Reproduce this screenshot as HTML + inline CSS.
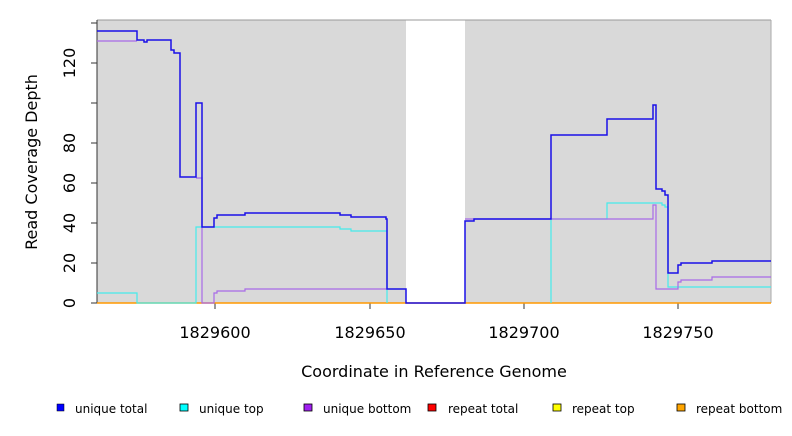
<!DOCTYPE html>
<html><head><meta charset="utf-8"><style>
body{margin:0;background:#fff;width:792px;height:432px;overflow:hidden;font-family:"DejaVu Sans","Liberation Sans",sans-serif}
</style></head><body>
<svg width="792" height="432" xmlns="http://www.w3.org/2000/svg" font-family="DejaVu Sans, Liberation Sans, sans-serif">
<rect x="97" y="20" width="309" height="283" fill="#d9d9d9"/>
<rect x="465" y="20" width="306" height="283" fill="#d9d9d9"/>
<line x1="97" y1="20" x2="771" y2="20" stroke="#999" stroke-width="1"/>
<line x1="771" y1="20" x2="771" y2="303" stroke="#aaa" stroke-width="1"/>
<line x1="97" y1="20" x2="97" y2="303" stroke="#333" stroke-width="1"/>
<g stroke="#333" stroke-width="1">
<line x1="91" y1="303" x2="97" y2="303"/><line x1="91" y1="263" x2="97" y2="263"/><line x1="91" y1="223" x2="97" y2="223"/><line x1="91" y1="183" x2="97" y2="183"/><line x1="91" y1="143" x2="97" y2="143"/><line x1="91" y1="103" x2="97" y2="103"/><line x1="91" y1="63" x2="97" y2="63"/><line x1="91" y1="23" x2="97" y2="23"/>
<line x1="215" y1="303" x2="215" y2="309"/><line x1="370" y1="303" x2="370" y2="309"/><line x1="524" y1="303" x2="524" y2="309"/><line x1="678" y1="303" x2="678" y2="309"/>
</g>
<g font-size="16" fill="#000" text-anchor="middle">
<text transform="translate(75,303) rotate(-90)">0</text>
<text transform="translate(75,263) rotate(-90)">20</text>
<text transform="translate(75,223) rotate(-90)">40</text>
<text transform="translate(75,183) rotate(-90)">60</text>
<text transform="translate(75,143) rotate(-90)">80</text>
<text transform="translate(75,63) rotate(-90)">120</text>
<text transform="translate(37,162) rotate(-90)">Read Coverage Depth</text>
<text x="215" y="338">1829600</text><text x="370" y="338">1829650</text><text x="524" y="338">1829700</text><text x="678" y="338">1829750</text>
<text x="434" y="377">Coordinate in Reference Genome</text>
</g>
<line x1="551" y1="219" x2="551" y2="303" stroke="#bbb"/>
<polyline fill="none" stroke="#ff9900" stroke-width="1.5" points="97,303 406,303 465,303 771,303"/>
<polyline fill="none" stroke="#44ecec" stroke-width="1.2" points="97,293 137,293 137,303 196,303 196,227 340,227 340,229 351,229 351,231 387,231 387,303"/>
<polyline fill="none" stroke="#44ecec" stroke-width="1.2" points="551,303 551,219 607,219 607,203 662,203 662,205 665,205 665,207 668,207 668,287 771,287"/>
<polyline fill="none" stroke="#a86ae8" stroke-width="1.2" points="97,41 137,41"/>
<polyline fill="none" stroke="#a86ae8" stroke-width="1.2" points="196,178 202,178 202,303 214,303 214,293 217,293 217,291 245,291 245,289 387,289"/>
<polyline fill="none" stroke="#a86ae8" stroke-width="1.2" points="465,219 653,219 653,205 656,205 656,289 678,289 678,282 681,282 681,280 712,280 712,277 771,277"/>
<polyline fill="none" stroke="#1a10e8" stroke-width="1.5" points="97,31 137,31 137,40 144,40 144,42 147,42 147,40 171,40 171,50 174,50 174,53 180,53 180,177 196,177 196,103 202,103 202,227 214,227 214,218 217,218 217,215 245,215 245,213 340,213 340,215 351,215 351,217 386,217 386,219 387,219 387,289 406,289 406,303 465,303 465,221 474,221 474,219 551,219 551,135 607,135 607,119 653,119 653,105 656,105 656,189 662,189 662,191 665,191 665,195 668,195 668,273 678,273 678,265 681,265 681,263 712,263 712,261 771,261"/>
<g font-size="12" fill="#000">
<rect x="57" y="404" width="7" height="7" fill="#0000ff" stroke="#000" stroke-width="0.5"/><text x="75" y="413">unique total</text>
<rect x="180" y="404" width="8" height="7" fill="#00ffff" stroke="#000" stroke-width="0.8"/><text x="199" y="413">unique top</text>
<rect x="304" y="404" width="8" height="7" fill="#a020f0" stroke="#000" stroke-width="0.8"/><text x="323" y="413">unique bottom</text>
<rect x="428" y="404" width="8" height="7" fill="#ff0000" stroke="#000" stroke-width="0.8"/><text x="448" y="413">repeat total</text>
<rect x="553" y="404" width="8" height="7" fill="#ffff00" stroke="#000" stroke-width="0.8"/><text x="572" y="413">repeat top</text>
<rect x="677" y="404" width="8" height="7" fill="#ffa500" stroke="#000" stroke-width="0.8"/><text x="696" y="413">repeat bottom</text>
</g>
</svg>
</body></html>
